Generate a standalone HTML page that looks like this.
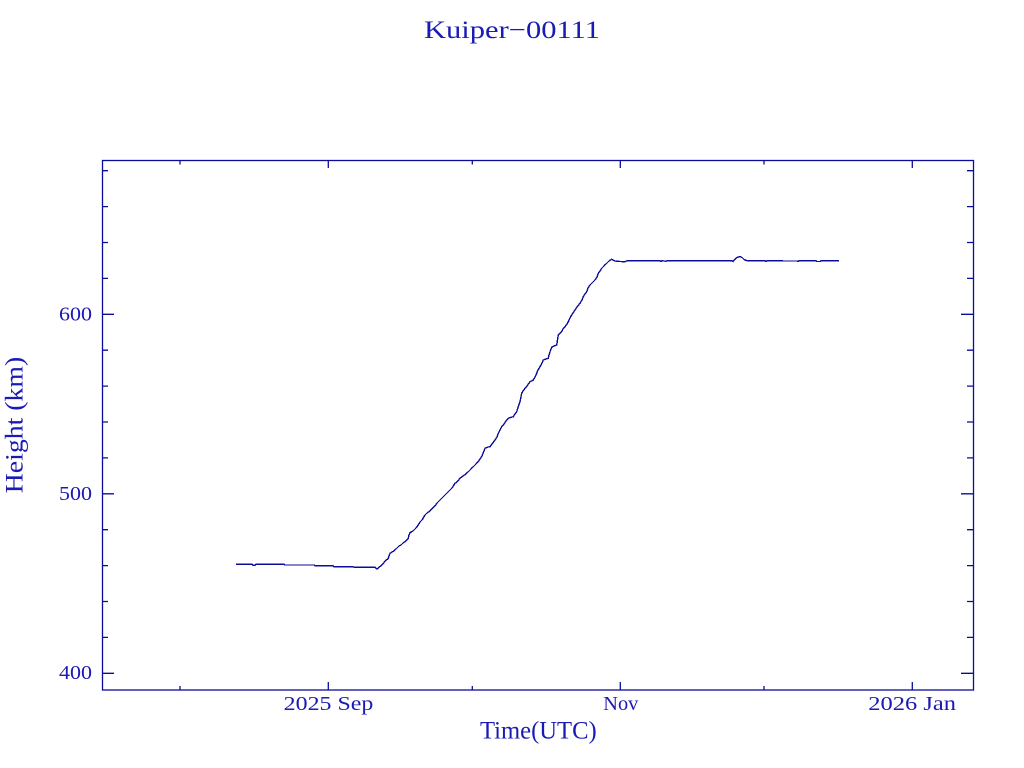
<!DOCTYPE html>
<html>
<head>
<meta charset="utf-8">
<style>
html,body{margin:0;padding:0;background:#fff;}
svg{display:block;}
text{font-family:"Liberation Serif","DejaVu Serif",serif;fill:#1a1ab4;}
</style>
</head>
<body>
<svg width="1024" height="768" viewBox="0 0 1024 768" xmlns="http://www.w3.org/2000/svg">
<rect width="1024" height="768" fill="#fff"/>
<!-- Title -->
<text x="424" y="38" font-size="25.5" textLength="176" lengthAdjust="spacingAndGlyphs">Kuiper−00111</text>

<!-- Frame -->
<g stroke="#0c0c9a" stroke-width="1.3" fill="none">
<rect x="102.5" y="160.5" width="871" height="529.5"/>
<path d="M102 673.3H114 M102 493.8H114 M102 314.3H114"/>
<path d="M961 673.3H973 M961 493.8H973 M961 314.3H973"/>
<path d="M102 637.4H108 M102 601.5H108 M102 565.6H108 M102 529.7H108 M102 457.9H108 M102 422H108 M102 386.1H108 M102 350.2H108 M102 278.4H108 M102 242.5H108 M102 206.6H108 M102 170.7H108"/>
<path d="M967 637.4H973 M967 601.5H973 M967 565.6H973 M967 529.7H973 M967 457.9H973 M967 422H973 M967 386.1H973 M967 350.2H973 M967 278.4H973 M967 242.5H973 M967 206.6H973 M967 170.7H973"/>
<path d="M328.3 690V682 M620.3 690V682 M912.3 690V682"/>
<path d="M328.3 160V168 M620.3 160V168 M912.3 160V168"/>
<path d="M180 690V686 M472.3 690V686 M764 690V686"/>
<path d="M180 160V164.5 M472.3 160V164.5 M764 160V164.5"/>
</g>

<!-- Data -->
<polyline fill="none" stroke="#0c0c9a" stroke-width="1.4" shape-rendering="crispEdges" stroke-linejoin="miter" points="
236,564.3 252,564.3 253,565.3 255,565.3 256,564.3 284,564.3 285,565 314,565 315,565.7 333,565.7 334,566.7 353,566.7 354,567.3 375,567.3 377,569
380,566.5 382,565 384,562.5 386,560 388,559 389,556 390,553.3 392,552 394,551 396.7,548.3 399,546 401,545 403,543 406,541 408.3,538.3 409,535 410,532.7
413,531 416,528 418.3,525 420,522 422,520 425,515 427,513 430,511 433.3,507.3 435,506 437,503 440,500 442,498 445,495 447,493 450,490 452,488 455,483.3
457,482 460,478.3 463,476 466,474 468.3,471.7 471,469 473.3,466.7 476,464 478.3,461.7 480,459 482,456 485,448.3 488,447 490,446.7 492,444 495,440
497,437 498.3,433.3 500,430 501.7,426.7 504,424 506.7,420 509,418 513.3,416.7 515,414 516.7,411.7 518.3,406.7 520,401.7 521.7,393.3 523,391 525,388.3
527,386 530,381.7 533.3,380 535,377 536.7,373.3 538,370 540,366.7 542,363 543.3,360 546,359 548.3,358.3 549,355 550,351.7 551.7,347.3 554,346 556.7,345
557.5,340 558.3,335 560,333 561.7,331.7 563,329 565,326.7 567,324 568.3,321.7 570,318 571.7,315 573,313 575,310 577,307 580,303.3 582,300 583.3,296.7
585,294 586.7,291.7 588,288 590,285 592,283 595,280 597,277 598.3,273.3 600,271 601.7,268.3 604,266 606.7,263.3 609,261 611.7,259.3 613,260 615,261
620,261.5 625,261.7 627,260.7 660,260.7 661,261.5 662,260.7 666,261.3 667,260.7 732,260.7 733,261.5 735,259 737,257.5 740,256.5 742,257.5 744,259.5
747,260.7 765,260.7 766,261.5 767,260.7 782,260.7 783,261 797,261 798,261.5 799,260.7 816,260.7 817,261.5 820,261.5 821,260.7 839,260.7"/>

<!-- Y tick labels -->
<text x="59" y="679" font-size="19.5" textLength="33" lengthAdjust="spacingAndGlyphs">400</text>
<text x="59" y="500" font-size="19.5" textLength="33" lengthAdjust="spacingAndGlyphs">500</text>
<text x="59" y="320.5" font-size="19.5" textLength="33" lengthAdjust="spacingAndGlyphs">600</text>

<!-- X tick labels -->
<text x="283.7" y="710" font-size="20" textLength="89.6" lengthAdjust="spacingAndGlyphs">2025 Sep</text>
<text x="603.3" y="710" font-size="20" textLength="35" lengthAdjust="spacingAndGlyphs">Nov</text>
<text x="868.3" y="710" font-size="20" textLength="87.7" lengthAdjust="spacingAndGlyphs">2026 Jan</text>

<!-- Axis labels -->
<text x="480" y="738.3" font-size="25" textLength="116.7" lengthAdjust="spacingAndGlyphs">Time(UTC)</text>
<text transform="translate(22.7,493.3) rotate(-90)" x="0" y="0" font-size="25" textLength="136.6" lengthAdjust="spacingAndGlyphs">Height (km)</text>
</svg>
</body>
</html>
